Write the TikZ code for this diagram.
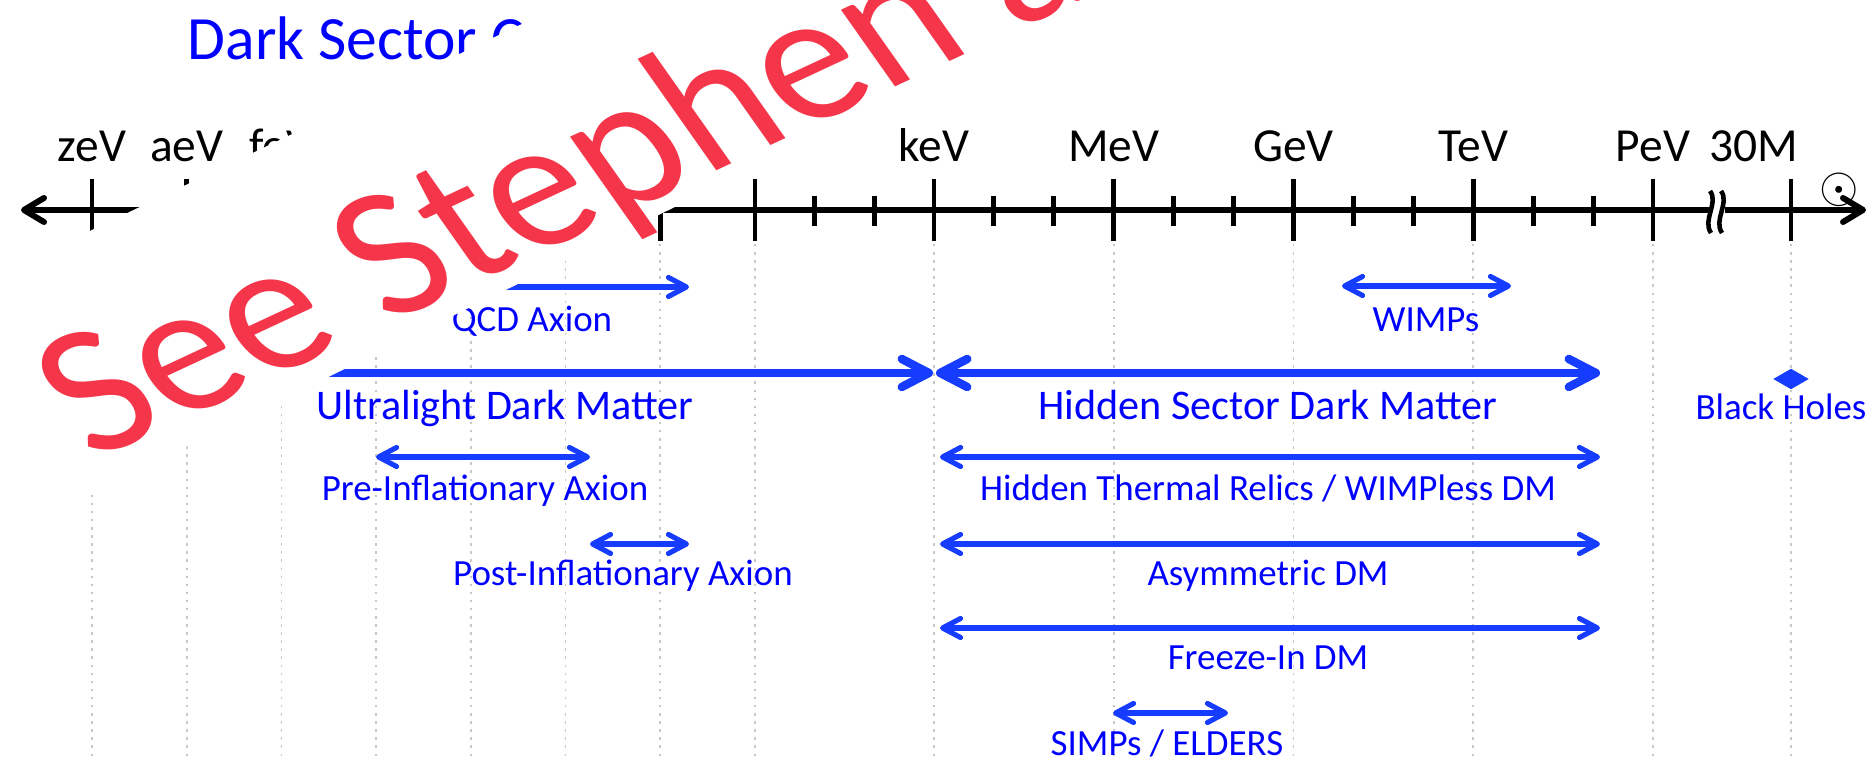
\documentclass[tikz,border=0pt]{standalone}
\usepackage{fontspec}
\setmainfont{Carlito}
\usetikzlibrary{arrows.meta,shapes.geometric}
\definecolor{titleblue}{RGB}{0,0,255}
\definecolor{rangeblue}{RGB}{22,60,255}
\definecolor{stampred}{RGB}{245,54,74}
\definecolor{gridgray}{RGB}{200,200,200}
\tikzset{
  axisline/.style={line width=1.7pt},
  majortick/.style={line width=1.4pt},
  gridline/.style={gridgray, line width=0.5pt, dash pattern=on 0.7pt off 1.6pt},
  thinarr/.style={rangeblue, line width=1.45pt,
    >={Straight Barb[round, length=1.8mm, width=1.9mm]}},
  thickarr/.style={rangeblue, line width=2.4pt,
    >={Straight Barb[round, length=2.7mm, width=2.8mm]}},
  unitlab/.style={anchor=base, inner sep=0pt, font=\fontsize{13.5}{16}\selectfont},
  rangelab/.style={anchor=base, inner sep=0pt, text=titleblue, font=\fontsize{10.5}{12}\selectfont},
  biglab/.style={rangelab, font=\fontsize{12}{14}\selectfont},
  stamp/.style={anchor=base west, inner sep=0pt, text=stampred, font=\fontsize{55}{60}\selectfont, rotate=25, xslant=-0.18},
}

\begin{document}
\begin{tikzpicture}[x=0.01cm, y=-0.01cm]
  \useasboundingbox (0,0) rectangle (1870,762);
  \clip (0,0) rectangle (1870,762);

  % dotted guide lines below the axis
  \foreach \x in {92,186.7,281.4,376.1,470.9,565.6,660.3,755,934,1113.75,1293.5,1473.25,1653,1791}
    \draw[gridline] (\x,244) -- (\x,762);

  % energy axis
  \coordinate (axL) at (21,210);
  \coordinate (axR) at (1866,210);
  \draw[axisline, {Straight Barb[round, length=2mm, width=2.4mm]}-{Straight Barb[round, length=2mm, width=2.4mm]}] (axL) -- (axR);
  \foreach \x in {92,186.7,281.4,376.1,470.9,565.6,660.3,755,934,1113.75,1293.5,1473.25,1653,1791}
    \draw[majortick] (\x,179) -- (\x,241);
  \foreach \x in {814.7,874.3,993.9,1053.8,1173.7,1233.6,1353.4,1413.3,1533.2,1593.1}
    \draw[majortick] (\x,196) -- (\x,226);
  \fill[white] (1709,199) rectangle (1725,221);
  \draw[line width=1.3pt] (1710,191) .. controls (1719,203) and (1702,220) .. (1711,233);
  \draw[line width=1.3pt] (1721,191) .. controls (1730,203) and (1713,220) .. (1722,233);

  \node[unitlab] (zev) at (92,162) {zeV};
  \node[unitlab] (aev) at (186.7,162) {aeV};
  \node[unitlab] (fev) at (281.4,162) {feV};
  \node[unitlab] (pev) at (376.1,162) {peV};
  \node[unitlab] (nev) at (470.9,162) {neV};
  \node[unitlab] (uev) at (565.6,162) {µeV};
  \node[unitlab] (mev) at (660.3,162) {meV};
  \node[unitlab] (ev) at (755,162) {eV};
  \node[unitlab] (kev) at (934,162) {keV};
  \node[unitlab] (Mev) at (1113.75,162) {MeV};
  \node[unitlab] (gev) at (1293.5,162) {GeV};
  \node[unitlab] (tev) at (1473.25,162) {TeV};
  \node[unitlab] (Pev) at (1653,162) {PeV};
  \node[unitlab, anchor=base west] (msun) at (1709,162) {30M\hspace{0.45em}\raisebox{-0.85em}{$\odot$}};

  \node[anchor=base west, inner sep=0pt, text=titleblue, font=\fontsize{17.5}{20}\selectfont] (title) at (187,60) {Dark Sector Candidates};

  % mass ranges
  \coordinate (qcdL) at (450,287);   \coordinate (qcdR) at (689,287);
  \coordinate (ulL) at (250,373);    \coordinate (ulR) at (933,373);
  \coordinate (hsL) at (936,373);    \coordinate (hsR) at (1600,373);
  \coordinate (wimpL) at (1342,286); \coordinate (wimpR) at (1511,286);
  \coordinate (preL) at (376,457);   \coordinate (preR) at (590,457);
  \coordinate (htrL) at (940,457);   \coordinate (htrR) at (1600,457);
  \coordinate (postL) at (590,544);  \coordinate (postR) at (689,544);
  \coordinate (asyL) at (940,544);   \coordinate (asyR) at (1600,544);
  \coordinate (fiL) at (940,628);    \coordinate (fiR) at (1600,628);
  \coordinate (simpL) at (1113,713); \coordinate (simpR) at (1228,713);

  \draw[thinarr, ->] (qcdL) -- (qcdR);
  \draw[thickarr, ->] (ulL) -- (ulR);
  \draw[thickarr, <->] (hsL) -- (hsR);
  \draw[thinarr, <->] (wimpL) -- (wimpR);
  \draw[thinarr, <->] (preL) -- (preR);
  \draw[thinarr, <->] (htrL) -- (htrR);
  \draw[thinarr, <->] (postL) -- (postR);
  \draw[thinarr, <->] (asyL) -- (asyR);
  \draw[thinarr, <->] (fiL) -- (fiR);
  \draw[thinarr, <->] (simpL) -- (simpR);
  \node[diamond, fill=rangeblue, inner sep=0pt, aspect=1.7, minimum width=3.6mm, minimum height=2.1mm] (bh) at (1791,379) {};

  \node[rangelab] (qcd) at (532,331.5) {QCD Axion};
  \node[biglab] (ul) at (505,420) {Ultralight Dark Matter};
  \node[biglab] (hs) at (1268,420) {Hidden Sector Dark Matter};
  \node[rangelab] (wimp) at (1426,331.5) {WIMPs};
  \node[rangelab] (bhlab) at (1781,420) {Black Holes};
  \node[rangelab] (pre) at (485,501) {Pre-Inflationary Axion};
  \node[rangelab] (htr) at (1268,501) {Hidden Thermal Relics / WIMPless DM};
  \node[rangelab] (post) at (623,585.5) {Post-Inflationary Axion};
  \node[rangelab] (asy) at (1268,585.5) {Asymmetric DM};
  \node[rangelab] (fi) at (1268,670) {Freeze-In DM};
  \node[rangelab] (simp) at (1167,756) {SIMPs / ELDERS};

  % pasted-over note
  \fill[white] (0,274) -- (572,0) -- (1097,0) -- (0,538) -- cycle;
  \node[stamp] (see) at (92,462) {See Stephen a};
\end{tikzpicture}
\end{document}
